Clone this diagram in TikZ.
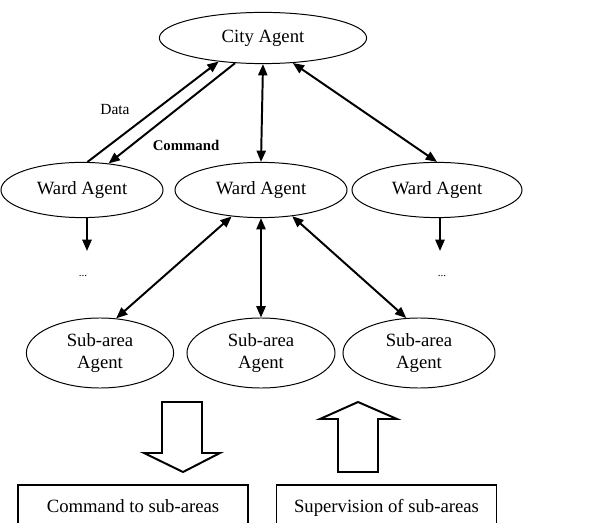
\documentclass[tikz,border=0pt]{standalone}
\usepackage{fontspec}
\setmainfont{Liberation Serif}
\usetikzlibrary{shapes.geometric,arrows.meta}
\begin{document}
\begin{tikzpicture}[x=0.025cm,y=-0.025cm,
    agent/.style={draw,ellipse,line width=0.7pt,inner sep=0pt,align=center,font=\fontsize{13.3}{15}\selectfont},
    link/.style={line width=1.4pt,{Triangle[length=8pt,width=6.5pt]}-{Triangle[length=8pt,width=6.5pt]}},
    flow/.style={line width=1.4pt,-{Triangle[length=8pt,width=6.5pt]}},
    block/.style={line width=1.4pt,fill=white,line join=miter},
    note/.style={draw,line width=0.8pt,minimum height=1.1cm,inner sep=0pt,text height=10pt,text depth=2pt,font=\fontsize{13.3}{15}\selectfont}]
    \useasboundingbox (0,0) rectangle (616,523);
    \node[agent,minimum width=5.18cm,minimum height=1.28cm] (city) at (263,38) {City Agent};
    \node[agent,minimum width=4.05cm,minimum height=1.38cm] (wardL) at (82,190) {Ward Agent};
    \node[agent,minimum width=4.3cm,minimum height=1.38cm] (wardM) at (261,190) {Ward Agent};
    \node[agent,minimum width=4.25cm,minimum height=1.38cm] (wardR) at (437,190) {Ward Agent};
    \node[agent,minimum width=3.68cm,minimum height=1.75cm] (subL) at (100,353) {Sub-area\\Agent};
    \node[agent,minimum width=3.7cm,minimum height=1.75cm] (subM) at (261,353) {Sub-area\\Agent};
    \node[agent,minimum width=3.8cm,minimum height=1.75cm] (subR) at (419,353) {Sub-area\\Agent};
    \node[font=\fontsize{8}{9}\selectfont] (dotsL) at (83,276) {...};
    \node[font=\fontsize{8}{9}\selectfont] (dotsR) at (442,276) {...};
    \coordinate (endL) at (87,251);
    \coordinate (endR) at (440,251);
    \node[font=\fontsize{11}{12}\selectfont] (data) at (115,110) {Data};
    \node[font=\fontsize{10.5}{12}\selectfont\bfseries] (cmd) at (186,145) {Command};
    \draw[flow] (wardL.79) -- (city.208);
    \draw[flow] (city.222) -- (wardL.45);
    \draw[link] (city.south) -- (wardM.north);
    \draw[link] (city.320) -- (wardR.north);
    \draw[flow] ([xshift=5*0.025cm]wardL.south) -- (endL);
    \draw[flow] ([xshift=3*0.025cm]wardR.south) -- (endR);
    \draw[link] (wardM.222) -- (subL.65);
    \draw[link] (wardM.south) -- (subM.north);
    \draw[link] (wardM.320) -- (subR.110);
    \draw[block] (162,402) -- (202,402) -- (202,453) -- (220,453) -- (183,472) -- (144,453) -- (162,453) -- cycle;
    \draw[block] (338,472) -- (378,472) -- (378,419) -- (397,419) -- (358,402) -- (320,419) -- (338,419) -- cycle;
    \node[note,minimum width=5.75cm] (cmdbox) at (133,507) {Command to sub-areas};
    \node[note,minimum width=5.48cm] (supbox) at (386.5,507) {Supervision of sub-areas};
\end{tikzpicture}
\end{document}
